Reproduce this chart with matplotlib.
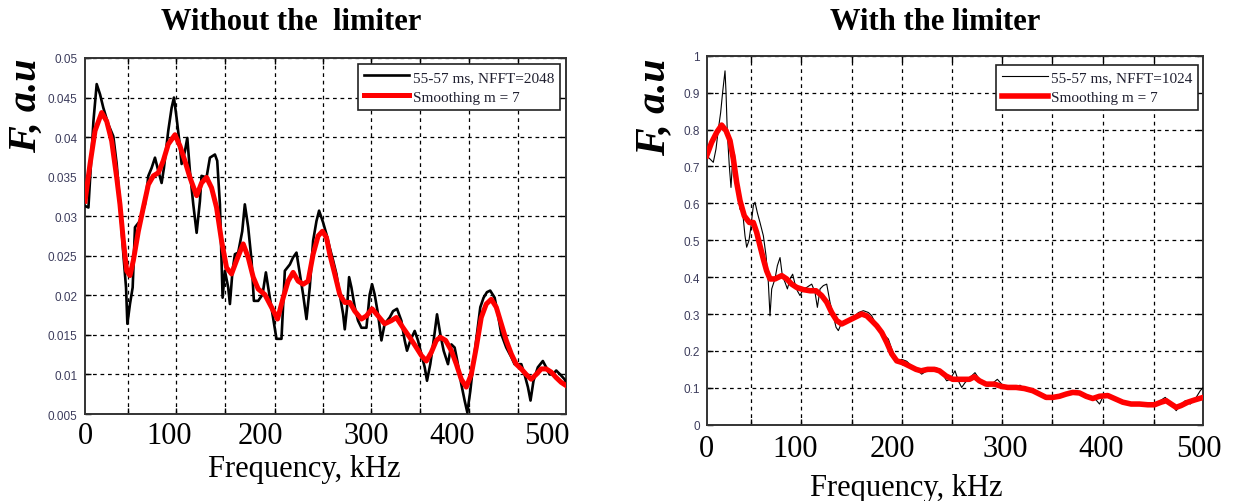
import matplotlib
matplotlib.use("Agg")
import matplotlib.pyplot as plt
from matplotlib.ticker import FixedLocator

# --- data: left panel (without the limiter) ---
freq_raw_l = [0, 3.5, 8.7, 12.1, 15.6, 19.0, 24.2, 29.4, 32.9, 36.3,
              39.8, 42.6, 44.0, 46.7, 49.5, 51.9, 57.1, 62.3, 65.8, 69.2,
              72.7, 76.2, 79.6, 82.0, 86.5, 90.0, 92.4, 95.2, 98.0, 100.4,
              103.8, 106.3, 109.0, 112.5, 116.0, 119.4, 121.1, 126.3, 129.8, 135.0,
              137.4, 140.2, 143.0, 145.4, 148.8, 150.6, 153.3, 155.8, 159.2, 163.4,
              166.1, 169.6, 173.1, 175.5, 180.0, 184.5, 188.0, 190.4, 194.9, 199.0,
              204.2, 207.7, 212.9, 216.3, 219.8, 223.3, 226.7, 230.2, 233.6, 237.1,
              240.6, 243.3, 247.5, 251.0, 254.4, 257.9, 261.3, 264.8, 268.3, 270.0,
              272.4, 274.5, 276.9, 280.4, 283.8, 287.3, 292.5, 295.9, 298.4, 301.1,
              304.6, 308.1, 311.5, 316.7, 320.2, 324.3, 328.8, 332.3, 334.7, 338.2,
              342.7, 346.1, 349.6, 353.1, 355.5, 358.9, 362.4, 365.9, 369.3, 372.8,
              377.3, 380.8, 384.2, 387.0, 391.1, 394.6, 397.4, 400.5, 403.9, 407.4,
              410.9, 414.3, 417.8, 421.2, 425.8, 429.2, 432.7, 437.9, 443.1, 446.5,
              453.5, 456.9, 460.4, 463.1, 466.2, 470.7, 475.9, 479.4, 482.9, 486.3,
              489.8, 493.9, 498.4, 500]
amp_raw_l = [0.0313, 0.0311, 0.0420, 0.0467, 0.0454, 0.0437, 0.0416, 0.0401, 0.0366, 0.0315,
             0.0252, 0.0210, 0.0164, 0.0189, 0.0210, 0.0286, 0.0294, 0.0315, 0.0351, 0.0361,
             0.0374, 0.0357, 0.0342, 0.0361, 0.0408, 0.0437, 0.0450, 0.0424, 0.0395, 0.0366,
             0.0382, 0.0399, 0.0357, 0.0315, 0.0279, 0.0319, 0.0351, 0.0349, 0.0374, 0.0378,
             0.0370, 0.0315, 0.0197, 0.0231, 0.0210, 0.0189, 0.0231, 0.0252, 0.0254, 0.0281,
             0.0315, 0.0286, 0.0244, 0.0193, 0.0193, 0.0201, 0.0229, 0.0210, 0.0176, 0.0145,
             0.0145, 0.0231, 0.0239, 0.0248, 0.0254, 0.0227, 0.0201, 0.0170, 0.0210, 0.0269,
             0.0294, 0.0307, 0.0292, 0.0277, 0.0260, 0.0244, 0.0227, 0.0201, 0.0176, 0.0157,
             0.0185, 0.0223, 0.0210, 0.0185, 0.0168, 0.0159, 0.0159, 0.0201, 0.0214, 0.0201,
             0.0176, 0.0143, 0.0164, 0.0172, 0.0180, 0.0183, 0.0168, 0.0143, 0.0130, 0.0143,
             0.0155, 0.0143, 0.0126, 0.0109, 0.0092, 0.0113, 0.0143, 0.0176, 0.0151, 0.0130,
             0.0113, 0.0138, 0.0134, 0.0117, 0.0088, 0.0067, 0.0052, 0.0079, 0.0117, 0.0151,
             0.0185, 0.0197, 0.0204, 0.0206, 0.0197, 0.0176, 0.0151, 0.0134, 0.0122, 0.0113,
             0.0113, 0.0100, 0.0084, 0.0067, 0.0092, 0.0109, 0.0117, 0.0109, 0.0100, 0.0100,
             0.0105, 0.0100, 0.0094, 0.0090]

freq_sm_l = [0, 5.2, 10.4, 17.3, 22.5, 27.7, 32.9, 36.3, 39.8, 43.3,
             46.7, 50.2, 55.4, 60.6, 65.8, 71.0, 76.2, 81.3, 86.5, 93.5,
             98.6, 103.8, 109.0, 116.0, 121.1, 126.3, 131.5, 136.7, 141.9, 147.1,
             152.3, 157.5, 164.4, 169.6, 174.8, 180.0, 186.9, 193.8, 200.1, 206.0,
             211.1, 216.3, 221.5, 226.7, 231.9, 237.1, 242.3, 246.8, 251.0, 254.4,
             259.6, 264.8, 270.0, 275.2, 280.4, 287.3, 292.5, 298.4, 304.6, 311.5,
             318.4, 323.6, 330.6, 337.5, 344.4, 349.6, 354.8, 360.0, 365.2, 369.3,
             374.9, 380.8, 386.0, 391.1, 396.3, 401.5, 406.7, 411.9, 417.1, 422.3,
             427.5, 432.7, 437.9, 443.1, 448.2, 453.5, 458.6, 463.8, 469.0, 474.2,
             479.4, 484.6, 489.8, 495.0, 500]
amp_sm_l = [0.0319, 0.0366, 0.0408, 0.0431, 0.0420, 0.0395, 0.0349, 0.0315, 0.0269, 0.0231,
            0.0225, 0.0244, 0.0281, 0.0311, 0.0340, 0.0351, 0.0355, 0.0370, 0.0391, 0.0403,
            0.0389, 0.0370, 0.0349, 0.0326, 0.0342, 0.0349, 0.0336, 0.0311, 0.0269, 0.0235,
            0.0227, 0.0244, 0.0265, 0.0248, 0.0223, 0.0208, 0.0201, 0.0185, 0.0170, 0.0197,
            0.0218, 0.0229, 0.0218, 0.0214, 0.0218, 0.0252, 0.0275, 0.0281, 0.0273, 0.0252,
            0.0227, 0.0201, 0.0191, 0.0191, 0.0180, 0.0170, 0.0174, 0.0183, 0.0174, 0.0164,
            0.0168, 0.0172, 0.0159, 0.0147, 0.0134, 0.0124, 0.0117, 0.0128, 0.0143, 0.0147,
            0.0143, 0.0130, 0.0113, 0.0094, 0.0084, 0.0100, 0.0134, 0.0172, 0.0189, 0.0195,
            0.0185, 0.0164, 0.0143, 0.0126, 0.0113, 0.0107, 0.0100, 0.0094, 0.0100, 0.0107,
            0.0107, 0.0103, 0.0096, 0.0090, 0.0086]

# --- data: right panel (with the limiter) ---
freq_raw_r = [0, 3.4, 6.7, 9.4, 11.8, 14.1, 16.1, 18.5, 19.5, 20.8,
              22.8, 24.5, 26.2, 27.9, 29.5, 31.2, 33.6, 36.3, 38.6, 40.3,
              42.6, 44.7, 47.0, 48.7, 51.0, 53.7, 57.1, 59.8, 62.1, 63.8,
              65.5, 68.8, 71.2, 73.9, 76.2, 78.9, 81.3, 83.9, 86.6, 89.0,
              91.3, 94.0, 97.4, 100.7, 105.8, 109.1, 111.5, 114.2, 117.5, 120.9,
              124.2, 127.6, 130.3, 132.6, 136.0, 141.0, 147.8, 152.8, 157.8, 162.9,
              166.2, 171.3, 176.3, 179.7, 183.0, 186.4, 191.4, 196.4, 201.4, 206.5,
              211.5, 216.5, 221.6, 226.6, 231.6, 236.7, 241.7, 245.1, 250.1, 253.4,
              256.8, 260.2, 265.2, 270.2, 274.6, 278.6, 283.6, 288.7, 292.7, 297.1,
              302.1, 308.8, 315.6, 322.3, 329.0, 334.1, 340.8, 345.8, 352.6, 359.3,
              367.7, 376.1, 384.5, 391.2, 395.6, 399.6, 406.3, 414.7, 423.1, 433.2,
              443.3, 450.0, 456.7, 461.7, 466.8, 472.8, 476.8, 481.9, 486.9, 492.0,
              497.0, 500]
amp_raw_r = [0.729, 0.720, 0.711, 0.747, 0.801, 0.846, 0.901, 0.959, 0.901, 0.792,
             0.702, 0.643, 0.720, 0.738, 0.693, 0.630, 0.584, 0.575, 0.512, 0.481,
             0.499, 0.539, 0.594, 0.603, 0.575, 0.548, 0.512, 0.458, 0.386, 0.295,
             0.368, 0.395, 0.431, 0.453, 0.404, 0.386, 0.368, 0.395, 0.408, 0.381,
             0.363, 0.350, 0.368, 0.372, 0.381, 0.359, 0.318, 0.368, 0.377, 0.381,
             0.332, 0.295, 0.264, 0.255, 0.277, 0.282, 0.291, 0.304, 0.309, 0.304,
             0.295, 0.268, 0.255, 0.241, 0.232, 0.205, 0.172, 0.177, 0.172, 0.159,
             0.150, 0.137, 0.146, 0.154, 0.154, 0.141, 0.119, 0.123, 0.146, 0.119,
             0.101, 0.114, 0.128, 0.141, 0.123, 0.110, 0.104, 0.114, 0.123, 0.110,
             0.101, 0.101, 0.107, 0.092, 0.092, 0.086, 0.074, 0.071, 0.074, 0.079,
             0.085, 0.083, 0.071, 0.070, 0.056, 0.079, 0.079, 0.065, 0.056, 0.054,
             0.056, 0.052, 0.065, 0.074, 0.061, 0.038, 0.052, 0.065, 0.056, 0.070,
             0.092, 0.101]

freq_sm_r = [0, 5.0, 10.1, 15.1, 19.5, 23.5, 26.9, 30.2, 33.6, 37.9,
             43.0, 47.0, 50.4, 53.7, 57.1, 60.4, 63.8, 68.8, 75.6, 80.6,
             85.6, 90.7, 97.4, 104.1, 110.1, 115.8, 120.9, 125.9, 131.0, 136.0,
             142.7, 149.4, 156.1, 161.2, 166.2, 171.3, 176.3, 181.3, 186.4, 191.4,
             197.4, 204.1, 210.8, 215.9, 222.6, 229.3, 234.4, 241.1, 247.8, 256.2,
             264.6, 269.6, 274.6, 281.4, 289.8, 296.5, 303.2, 311.6, 320.0, 328.4,
             335.1, 341.8, 348.5, 355.2, 362.0, 368.7, 375.4, 382.1, 388.8, 395.5,
             403.9, 410.6, 419.0, 427.4, 435.8, 444.2, 450.9, 457.6, 462.7, 467.7,
             472.8, 477.8, 484.5, 491.3, 500]
amp_sm_r = [0.729, 0.765, 0.792, 0.812, 0.797, 0.770, 0.720, 0.657, 0.607, 0.566,
            0.548, 0.548, 0.521, 0.485, 0.449, 0.417, 0.395, 0.395, 0.404, 0.395,
            0.381, 0.372, 0.366, 0.363, 0.363, 0.350, 0.332, 0.304, 0.282, 0.273,
            0.282, 0.291, 0.300, 0.295, 0.282, 0.268, 0.250, 0.223, 0.192, 0.173,
            0.168, 0.159, 0.150, 0.146, 0.150, 0.150, 0.146, 0.132, 0.123, 0.123,
            0.123, 0.130, 0.119, 0.110, 0.110, 0.104, 0.101, 0.101, 0.098, 0.092,
            0.083, 0.074, 0.074, 0.077, 0.083, 0.0875, 0.086, 0.077, 0.071, 0.077,
            0.079, 0.071, 0.061, 0.056, 0.056, 0.054, 0.054, 0.061, 0.065, 0.056,
            0.047, 0.052, 0.061, 0.067, 0.074]

# ticks / labels
yticks_l = [0.005, 0.01, 0.015, 0.02, 0.025, 0.03, 0.035, 0.04, 0.045, 0.05]
yticklabels_l = ['0.005', '0.01', '0.015', '0.02', '0.025', '0.03', '0.035', '0.04', '0.045', '0.05']
yticks_r = [0, 0.1, 0.2, 0.3, 0.4, 0.5, 0.6, 0.7, 0.8, 0.9, 1]
yticklabels_r = ['0', '0.1', '0.2', '0.3', '0.4', '0.5', '0.6', '0.7', '0.8', '0.9', '1']
xticklabels = ['0', '100', '200', '300', '400', '500']
labels_l = ['55-57 ms, NFFT=2048', 'Smoothing m = 7']
labels_r = ['55-57 ms, NFFT=1024', 'Smoothing m = 7']

# --- layout (label placement as in the original figure) ---
XLBL_POS_L = [0, 87, 182, 292, 382, 480]
XLBL_POS_R = [0, 89, 187, 301, 397, 496]
XGRID = [45, 95, 146, 197, 247, 297, 348, 399, 450]
YTICK_COLOR = '#3c3c5c'

fig = plt.figure(figsize=(12.38, 5.02), dpi=100)
ax1 = fig.add_axes([0.0687, 0.1733, 0.3885, 0.7092])
ax2 = fig.add_axes([0.5708, 0.152, 0.4011, 0.735])


def style_axes(ax, yticks, ylabels, xpos, ylim, xpad, ypad):
    ax.set_xlim(0, 500)
    ax.set_ylim(*ylim)
    ax.xaxis.set_major_locator(FixedLocator(xpos))
    ax.set_xticklabels(xticklabels, fontfamily='Liberation Serif', fontsize=22)
    ax.xaxis.set_minor_locator(FixedLocator(XGRID))
    ax.tick_params(axis='x', which='major', length=0, pad=xpad)
    ax.tick_params(axis='x', which='minor', direction='in', length=4,
                   top=True, bottom=True, width=1)
    ax.set_yticks(yticks)
    ax.set_yticklabels(ylabels, fontfamily='Liberation Sans', fontsize=8.5,
                       color=YTICK_COLOR)
    ax.tick_params(axis='y', direction='in', length=4, left=True, right=True,
                   pad=ypad, width=1)
    ax.grid(True, which='minor', axis='x', color='black', linestyle=(0, (3, 3)), lw=0.9)
    ax.grid(True, which='major', axis='y', color='black', linestyle=(0, (3, 3)), lw=0.9)
    for sp in ax.spines.values():
        sp.set_color('#333333')
        sp.set_linewidth(1.4)


style_axes(ax1, yticks_l, yticklabels_l, XLBL_POS_L, (0.005, 0.05), 5, 5.5)
style_axes(ax2, yticks_r, yticklabels_r, XLBL_POS_R, (0, 1), 7, 5)

ax1.plot(freq_raw_l, amp_raw_l, color='black', lw=1.9, label=labels_l[0], zorder=3)
ax1.plot(freq_sm_l, amp_sm_l, color='red', lw=3.6, label=labels_l[1], zorder=4,
         solid_joinstyle='round')
ax2.plot(freq_raw_r, amp_raw_r, color='black', lw=0.8, label=labels_r[0], zorder=3)
ax2.plot(freq_sm_r, amp_sm_r, color='red', lw=4.0, label=labels_r[1], zorder=4,
         solid_joinstyle='round')

for ax, anchor in [(ax1, (0.9875, 0.983)), (ax2, (0.990, 0.9756))]:
    leg = ax.legend(loc='upper right', bbox_to_anchor=anchor, borderaxespad=0,
                    fancybox=False, framealpha=1, edgecolor='#222222',
                    prop={'family': 'Liberation Serif', 'size': 11},
                    handlelength=3.0, handletextpad=0.2, borderpad=0.4,
                    labelspacing=0.4)
    leg.get_frame().set_linewidth(1.2)
    for t in leg.get_texts():
        t.set_color('#202030')

# axis labels
ax1.text(0.455, -0.152, 'Frequency, kHz', transform=ax1.transAxes, ha='center',
         va='center', fontfamily='Liberation Serif', fontsize=22)
ax2.text(0.403, -0.170, 'Frequency, kHz', transform=ax2.transAxes, ha='center',
         va='center', fontfamily='Liberation Serif', fontsize=22)
fig.text(26 / 1238, 1 - 106 / 502, 'F, a.u', rotation=90, ha='center', va='center',
         fontfamily='Liberation Serif', fontweight='bold', style='italic', fontsize=29)
fig.text(654 / 1238, 1 - 107 / 502, 'F, a.u', rotation=90, ha='center', va='center',
         fontfamily='Liberation Serif', fontweight='bold', style='italic', fontsize=30)

# titles
fig.text(291 / 1238, 1 - 22 / 502, 'Without the  limiter', ha='center', va='center',
         fontfamily='Liberation Serif', fontweight='bold', fontsize=22)
fig.text(935 / 1238, 1 - 22 / 502, 'With the limiter', ha='center', va='center',
         fontfamily='Liberation Serif', fontweight='bold', fontsize=22)

fig.savefig('out.png', dpi=100)
